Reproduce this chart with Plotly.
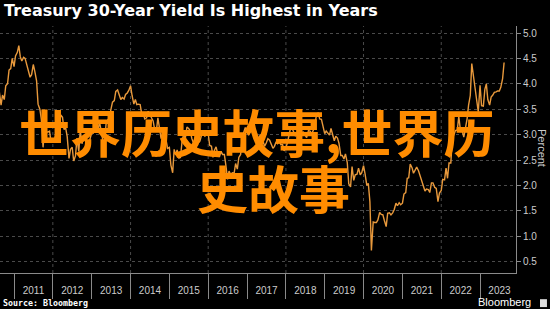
import datetime as dt
import plotly.graph_objects as go

# Semi-monthly readings (1st and 15th) of the 30-year Treasury yield, percent
y2010 = [3.85, 3.58, 3.78, 3.69, 3.96, 4.00, 4.27, 4.30, 4.50]
y2011 = [4.34, 4.55, 4.62, 4.75, 4.53, 4.45, 4.52, 4.50, 4.39, 4.25, 4.13, 4.18,
         4.38, 4.25, 4.06, 3.60, 3.50, 3.30, 2.75, 3.10, 3.05, 3.05, 3.07, 2.85]
y2012 = [2.89, 2.90, 3.03, 3.13, 3.09, 3.39, 3.34, 3.10, 3.13, 2.96, 2.53, 2.71,
         2.75, 2.48, 2.58, 2.93, 2.67, 3.09, 2.82, 2.95, 2.90, 2.73, 2.80, 2.93]
y2013 = [3.04, 3.03, 3.22, 3.18, 3.08, 3.25, 3.06, 2.89, 2.83, 3.20, 3.29, 3.33,
         3.50, 3.64, 3.67, 3.85, 3.88, 3.80, 3.69, 3.73, 3.70, 3.79, 3.82, 3.87]
y2014 = [3.96, 3.77, 3.60, 3.69, 3.59, 3.60, 3.59, 3.42, 3.40, 3.31, 3.33, 3.46,
         3.40, 3.33, 3.27, 3.11, 3.08, 3.33, 3.12, 2.92, 3.06, 3.10, 2.89, 2.73]
y2015 = [2.75, 2.40, 2.25, 2.71, 2.60, 2.70, 2.54, 2.55, 2.88, 3.00, 2.94, 3.15,
         3.12, 3.08, 2.92, 2.84, 2.90, 3.01, 2.84, 2.87, 3.00, 3.08, 2.97, 2.99]
y2016 = [3.02, 2.79, 2.77, 2.55, 2.70, 2.76, 2.61, 2.56, 2.67, 2.61, 2.61, 2.40,
         2.12, 2.28, 2.21, 2.25, 2.24, 2.43, 2.32, 2.55, 2.61, 2.94, 3.07, 3.14]
y2017 = [3.06, 2.99, 3.07, 3.08, 3.07, 3.11, 3.01, 2.90, 2.98, 3.00, 2.86, 2.77,
         2.84, 2.92, 2.89, 2.83, 2.73, 2.77, 2.86, 2.82, 2.86, 2.80, 2.80, 2.68]
y2018 = [2.74, 2.84, 2.98, 3.14, 3.12, 3.06, 2.97, 3.02, 3.13, 3.20, 3.04, 3.05,
         2.99, 2.94, 3.08, 3.07, 3.02, 3.08, 3.21, 3.38, 3.43, 3.31, 3.30, 3.14]
y2019 = [3.02, 3.07, 3.03, 2.99, 3.12, 3.02, 2.88, 2.97, 2.93, 2.83, 2.59, 2.59,
         2.52, 2.62, 2.45, 2.03, 1.97, 2.37, 2.10, 2.21, 2.22, 2.34, 2.21, 2.25]
y2020 = [2.39, 2.23, 2.00, 2.04, 1.68, 0.72, 1.28, 1.27, 1.27, 1.32, 1.47, 1.43,
         1.42, 1.31, 1.19, 1.45, 1.46, 1.42, 1.46, 1.52, 1.65, 1.60, 1.66, 1.62]
y2021 = [1.65, 1.83, 1.86, 2.14, 2.15, 2.42, 2.35, 2.24, 2.30, 2.36, 2.29, 2.20,
         2.08, 1.97, 1.89, 1.93, 1.92, 1.86, 2.05, 2.05, 1.96, 1.94, 1.68, 1.85]
y2022 = [1.90, 2.12, 2.11, 2.34, 2.14, 2.44, 2.44, 2.92, 3.00, 3.08, 3.09, 3.36,
         3.07, 3.09, 2.95, 3.12, 3.31, 3.58, 3.77, 4.40, 4.14, 3.93, 3.64, 3.45]
y2023 = [3.97, 3.57, 3.56, 3.89, 4.00, 3.69, 3.58, 3.74, 3.78, 3.83, 3.84, 3.86,
         3.86, 3.93, 4.10, 4.42]

first_day = dt.date(2010, 8, 15)
last_day = dt.date(2023, 8, 15)
dates = []
for yr in range(2010, 2024):
    for mo in range(1, 13):
        for dd in (1, 15):
            d = dt.date(yr, mo, dd)
            if first_day <= d <= last_day:
                dates.append(d.isoformat())

yields = (y2010 + y2011 + y2012 + y2013 + y2014 + y2015 + y2016 + y2017 +
          y2018 + y2019 + y2020 + y2021 + y2022 + y2023)
assert len(dates) == len(yields), (len(dates), len(yields))

title_text = "Treasury 30-Year Yield Is Highest in Years"
source_text = "Source: Bloomberg"
brand_text = "Bloomberg"
unit_text = "Percent"
overlay_line1 = "世界历史故事,世界历"
overlay_line2 = "史故事"
grid_years = [2012, 2014, 2016, 2018, 2020, 2022]

fig = go.Figure()
fig.add_trace(go.Scatter(
    x=dates, y=yields, mode="lines",
    line=dict(color="#E8993C", width=1.4),
    hoverinfo="skip", showlegend=False,
))

grid_col = "#4a4a4a"
for yr in grid_years:
    fig.add_shape(type="line", xref="x", yref="paper",
                  x0=f"{yr}-01-01", x1=f"{yr}-01-01", y0=0, y1=1,
                  line=dict(color=grid_col, width=1, dash="dot"), layer="below")

fig.update_layout(
    width=550, height=309,
    margin=dict(l=0, r=34, t=26, b=36),
    paper_bgcolor="#000000", plot_bgcolor="#000000",
    font=dict(family="Liberation Sans, Arial", color="#cccccc", size=10),
    showlegend=False,
)
fig.update_xaxes(
    type="date", range=["2010-08-22", "2023-12-05"],
    dtick="M12", tick0="2011-01-01", tickformat="%Y", ticklabelmode="period",
    ticks="outside", ticklen=25, tickcolor="#8a8a8a", tickwidth=1,
    ticklabelstandoff=-17,
    showline=True, linecolor="#8a8a8a", linewidth=1,
    showgrid=False, zeroline=False,
    tickfont=dict(size=10, color="#cccccc"),
)
fig.update_yaxes(
    side="right", range=[0.276, 5.138], dtick=0.5, tick0=0.5, tickformat=".1f",
    ticks="outside", ticklen=4, tickcolor="#8a8a8a",
    showline=True, linecolor="#8a8a8a", linewidth=1,
    showgrid=True, gridcolor=grid_col, griddash="dot", gridwidth=1,
    zeroline=False,
    tickfont=dict(size=10, color="#cccccc"),
)

fig.add_annotation(text=f"<b>{title_text}</b>", xref="paper", yref="paper",
                   x=0.004, y=1.061, xanchor="left", yanchor="middle",
                   showarrow=False,
                   font=dict(family="DejaVu Sans", size=16, color="#ffffff"))
fig.add_annotation(text=f"<b>{source_text}</b>", xref="paper", yref="paper",
                   x=0.004, y=-0.122, xanchor="left", yanchor="middle",
                   showarrow=False, borderpad=0,
                   font=dict(family="DejaVu Sans Mono", size=8.3, color="#ffffff"))
fig.add_annotation(text=brand_text, xref="paper", yref="paper",
                   x=1.031, y=-0.118, xanchor="right", yanchor="middle",
                   showarrow=False, borderpad=0,
                   font=dict(family="Liberation Sans", size=11, color="#ffffff"))
fig.add_shape(type="rect", xref="paper", yref="paper",
              x0=1.0465, x1=1.060, y0=-0.138, y1=-0.106,
              fillcolor="#dddddd", line=dict(width=0))
fig.add_annotation(text=unit_text, xref="paper", yref="paper",
                   x=1.0504, y=0.506, xanchor="center", yanchor="middle",
                   textangle=90, showarrow=False,
                   font=dict(size=11, color="#cccccc"))
fig.add_annotation(text=f"<b>{overlay_line1}</b>", xref="paper", yref="paper",
                   x=257 / 516, y=(273 - 131) / 247, xanchor="center", yanchor="middle",
                   showarrow=False, borderpad=0,
                   font=dict(family="Noto Sans CJK SC", size=51, color="#FF8C00"))
fig.add_annotation(text=f"<b>{overlay_line2}</b>", xref="paper", yref="paper",
                   x=273 / 516, y=(273 - 187) / 247, xanchor="center", yanchor="middle",
                   showarrow=False, borderpad=0,
                   font=dict(family="Noto Sans CJK SC", size=51, color="#FF8C00"))

fig.write_html("out.html")
